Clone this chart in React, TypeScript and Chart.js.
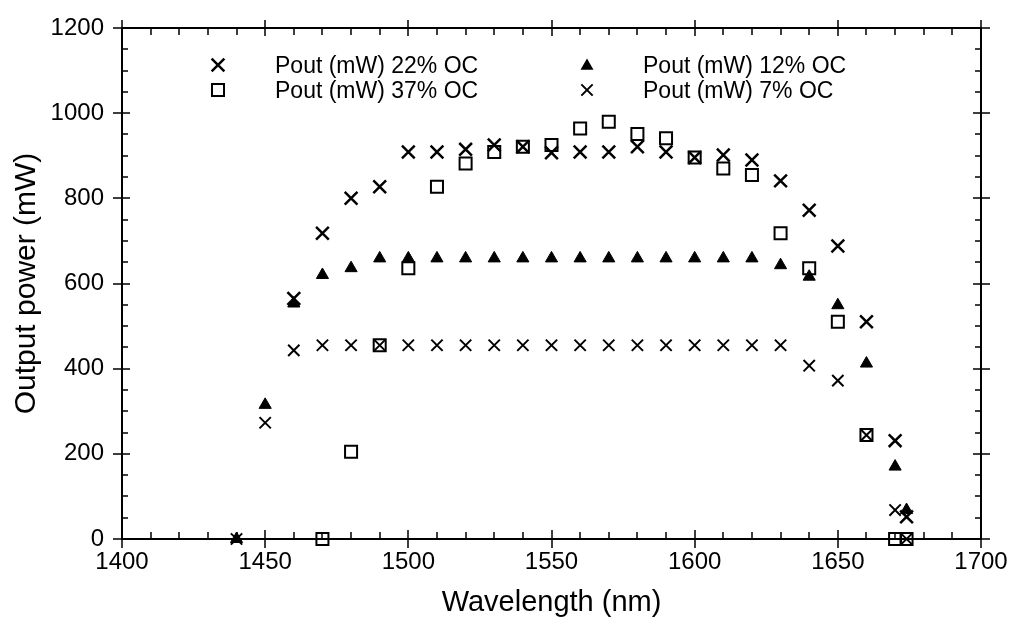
import React, { useEffect, useRef } from 'react';
import { Chart, registerables } from 'chart.js';

Chart.register(...registerables);

// ---- Data ----
const wavelength22 = [1460, 1470, 1480, 1490, 1500, 1510, 1520, 1530, 1540, 1550, 1560, 1570, 1580, 1590, 1600, 1610, 1620, 1630, 1640, 1650, 1660, 1670, 1674];
const pout22 = [565, 718, 800, 827, 909, 909, 915, 925, 921, 907, 909, 909, 921, 909, 896, 902, 890, 841, 772, 688, 510, 231, 52];

const wavelength37 = [1470, 1480, 1490, 1500, 1510, 1520, 1530, 1540, 1550, 1560, 1570, 1580, 1590, 1600, 1610, 1620, 1630, 1640, 1650, 1660, 1670, 1674];
const pout37 = [0, 205, 455, 636, 827, 882, 909, 921, 925, 964, 980, 951, 941, 896, 870, 855, 718, 636, 510, 244, 0, 0];

const wavelength12 = [1440, 1450, 1460, 1470, 1480, 1490, 1500, 1510, 1520, 1530, 1540, 1550, 1560, 1570, 1580, 1590, 1600, 1610, 1620, 1630, 1640, 1650, 1660, 1670, 1674];
const pout12 = [0, 315, 553, 620, 636, 659, 659, 659, 659, 659, 659, 659, 659, 659, 659, 659, 659, 659, 659, 643, 616, 549, 412, 170, 68];

const wavelength7 = [1440, 1450, 1460, 1470, 1480, 1490, 1500, 1510, 1520, 1530, 1540, 1550, 1560, 1570, 1580, 1590, 1600, 1610, 1620, 1630, 1640, 1650, 1660, 1670, 1674];
const pout7 = [0, 273, 443, 455, 455, 455, 455, 455, 455, 455, 455, 455, 455, 455, 455, 455, 455, 455, 455, 455, 407, 372, 244, 68, 0];

const seriesLabels = ['Pout (mW) 22% OC', 'Pout (mW) 37% OC', 'Pout (mW) 12% OC', 'Pout (mW) 7% OC'];

const X_MIN = 1400;
const X_MAX = 1700;
const X_MAJOR = 50;
const X_MINOR = 10;
const Y_MIN = 0;
const Y_MAX = 1200;
const Y_MAJOR = 200;
const Y_MINOR = 50;

const FONT = '"Liberation Sans", Arial, Helvetica, sans-serif';

function toPoints(xs: number[], ys: number[]) {
  return xs.map((x, i) => ({ x, y: ys[i] }));
}

function drawCross(ctx: CanvasRenderingContext2D, x: number, y: number, r: number, lw: number) {
  const o = r * Math.SQRT1_2;
  ctx.save();
  ctx.strokeStyle = '#000';
  ctx.lineWidth = lw;
  ctx.beginPath();
  ctx.moveTo(x - o, y - o);
  ctx.lineTo(x + o, y + o);
  ctx.moveTo(x - o, y + o);
  ctx.lineTo(x + o, y - o);
  ctx.stroke();
  ctx.restore();
}

function drawSquare(ctx: CanvasRenderingContext2D, x: number, y: number, r: number, lw: number) {
  const s = r * Math.SQRT1_2;
  ctx.save();
  ctx.strokeStyle = '#000';
  ctx.lineWidth = lw;
  ctx.strokeRect(x - s, y - s, 2 * s, 2 * s);
  ctx.restore();
}

function drawTriangle(ctx: CanvasRenderingContext2D, x: number, y: number, r: number) {
  ctx.save();
  ctx.fillStyle = '#000';
  ctx.beginPath();
  ctx.moveTo(x, y - r);
  ctx.lineTo(x + r * 0.866, y + r * 0.5);
  ctx.lineTo(x - r * 0.866, y + r * 0.5);
  ctx.closePath();
  ctx.fill();
  ctx.restore();
}

const frameTicksPlugin = {
  id: 'frameTicks',
  beforeDatasetsDraw(chart: any) {
    const { ctx, chartArea, scales } = chart;
    const { left, right, top, bottom } = chartArea;
    const xs = scales.x;
    const ys = scales.y;
    ctx.save();
    ctx.strokeStyle = '#000';
    ctx.lineWidth = 2;
    ctx.strokeRect(left, top, right - left, bottom - top);
    ctx.lineWidth = 1.5;
    ctx.beginPath();
    for (let v = X_MIN; v <= X_MAX; v += X_MINOR) {
      const px = Math.round(xs.getPixelForValue(v));
      const major = v % X_MAJOR === 0;
      if (major) {
        ctx.moveTo(px, bottom - 9);
        ctx.lineTo(px, bottom + 9);
        ctx.moveTo(px, top + 8);
        ctx.lineTo(px, top - 8);
      } else {
        ctx.moveTo(px, bottom - 7);
        ctx.lineTo(px, bottom);
        ctx.moveTo(px, top + 7);
        ctx.lineTo(px, top);
      }
    }
    for (let v = Y_MIN; v <= Y_MAX; v += Y_MINOR) {
      const py = Math.round(ys.getPixelForValue(v));
      const major = v % Y_MAJOR === 0;
      if (major) {
        ctx.moveTo(left - 9, py);
        ctx.lineTo(left + 8, py);
        ctx.moveTo(right + 9, py);
        ctx.lineTo(right - 8, py);
      } else {
        ctx.moveTo(left, py);
        ctx.lineTo(left + 6, py);
        ctx.moveTo(right, py);
        ctx.lineTo(right - 6, py);
      }
    }
    ctx.stroke();
    ctx.restore();
  },
};

const legendPlugin = {
  id: 'insideLegend',
  afterDraw(chart: any) {
    const ctx: CanvasRenderingContext2D = chart.ctx;
    ctx.save();
    ctx.fillStyle = '#000';
    ctx.font = `23px ${FONT}`;
    ctx.textAlign = 'left';
    ctx.textBaseline = 'alphabetic';
    // column 1
    drawCross(ctx, 218, 65, 9, 2.5);
    ctx.fillText(seriesLabels[0], 275, 73);
    drawSquare(ctx, 218, 90, 8.5, 2);
    ctx.fillText(seriesLabels[1], 275, 98);
    // column 2
    drawTriangle(ctx, 587, 66, 7.5);
    ctx.fillText(seriesLabels[2], 643, 73);
    drawCross(ctx, 587, 90, 8, 2);
    ctx.fillText(seriesLabels[3], 643, 98);
    ctx.restore();
  },
};

export default function App() {
  const canvasRef = useRef<HTMLCanvasElement | null>(null);

  useEffect(() => {
    const canvas = canvasRef.current;
    if (!canvas) return;
    const chart = new Chart(canvas, {
      type: 'scatter',
      data: {
        datasets: [
          {
            label: seriesLabels[0],
            data: toPoints(wavelength22, pout22),
            pointStyle: 'crossRot',
            pointRadius: 9,
            pointBorderWidth: 2.5,
            borderColor: '#000',
            backgroundColor: '#000',
            clip: false,
          },
          {
            label: seriesLabels[1],
            data: toPoints(wavelength37, pout37),
            pointStyle: 'rect',
            pointRadius: 8.5,
            pointBorderWidth: 2,
            borderColor: '#000',
            backgroundColor: 'rgba(0,0,0,0)',
            clip: false,
          },
          {
            label: seriesLabels[2],
            data: toPoints(wavelength12, pout12),
            pointStyle: 'triangle',
            pointRadius: 7,
            pointBorderWidth: 1,
            borderColor: '#000',
            backgroundColor: '#000',
            clip: false,
          },
          {
            label: seriesLabels[3],
            data: toPoints(wavelength7, pout7),
            pointStyle: 'crossRot',
            pointRadius: 8,
            pointBorderWidth: 2,
            borderColor: '#000',
            backgroundColor: '#000',
            clip: false,
          },
        ],
      },
      options: {
        animation: false,
        responsive: false,
        devicePixelRatio: 1,
        layout: { padding: { left: 0, right: 28, top: 28, bottom: 0 } },
        plugins: {
          legend: { display: false },
          tooltip: { enabled: false },
        },
        scales: {
          x: {
            type: 'linear',
            min: X_MIN,
            max: X_MAX,
            grid: { display: false, drawTicks: false },
            border: { display: false },
            ticks: {
              stepSize: X_MAJOR,
              color: '#000',
              font: { family: FONT, size: 24 },
              padding: 9,
              maxRotation: 0,
              callback: (v: any) => String(v),
            },
            title: {
              display: true,
              text: 'Wavelength (nm)',
              color: '#000',
              font: { family: FONT, size: 29 },
              padding: { top: 0, bottom: 0 },
            },
            afterFit: (scale: any) => {
              scale.height = 81;
              scale.paddingLeft = 0;
              scale.paddingRight = 0;
            },
          },
          y: {
            type: 'linear',
            min: Y_MIN,
            max: Y_MAX,
            grid: { display: false, drawTicks: false },
            border: { display: false },
            ticks: {
              stepSize: Y_MAJOR,
              color: '#000',
              font: { family: FONT, size: 24 },
              padding: 18,
              callback: (v: any) => String(v),
            },
            title: {
              display: true,
              text: 'Output power (mW)',
              color: '#000',
              font: { family: FONT, size: 30 },
              padding: { top: 9, bottom: 0 },
            },
            afterFit: (scale: any) => {
              scale.width = 122;
              scale.paddingTop = 0;
              scale.paddingBottom = 0;
            },
          },
        },
      } as any,
      plugins: [frameTicksPlugin, legendPlugin],
    });
    return () => chart.destroy();
  }, []);

  return (
    <div style={{ position: 'absolute', left: 0, top: 0, width: 1009, height: 620, background: '#fff' }}>
      <canvas ref={canvasRef} width={1009} height={620} style={{ display: 'block' }} />
    </div>
  );
}
